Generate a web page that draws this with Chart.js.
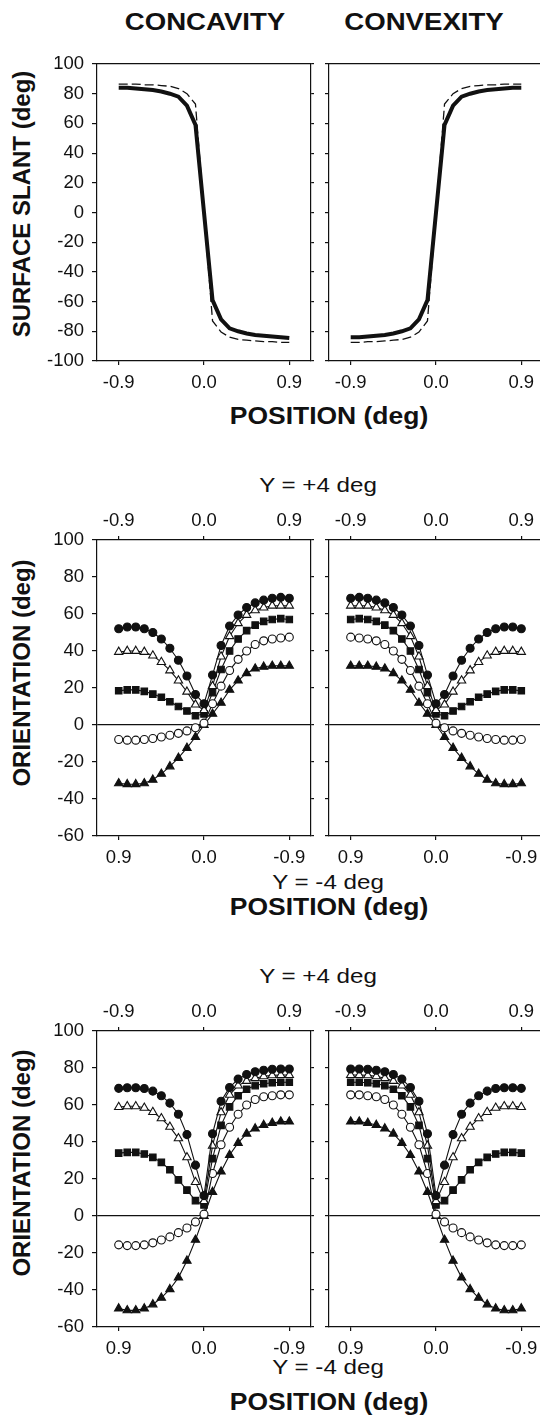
<!DOCTYPE html>
<html>
<head>
<meta charset="UTF-8">
<title>slant_orientation.html</title>
<script src="https://cdn.jsdelivr.net/npm/chart.js"></script>
<style>
  html, body { margin: 0; padding: 0; background: #fff; }
  body { width: 540px; height: 1418px; position: relative; overflow: hidden; }
  canvas { position: absolute; }
  .lbl {
    position: absolute;
    white-space: nowrap;
    line-height: 1;
    color: #111;
    font-family: 'Liberation Sans', Arial, sans-serif;
    transform: translate(-50%, -50%) scaleX(1.15);
  }
  .b { font-weight: bold; }
  .rot { transform: translate(-50%, -50%) rotate(-90deg); }
</style>
</head>

<body>
<div class="lbl b" style="left:205px; top:22px; font-size:23px; transform:translate(-50%,-50%) scaleX(1.2);">CONCAVITY</div>
<div class="lbl b" style="left:424px; top:22px; font-size:23px; transform:translate(-50%,-50%) scaleX(1.2);">CONVEXITY</div>

<div class="lbl b rot" style="left:22px; top:204px; font-size:24px;">SURFACE SLANT (deg)</div>
<div class="lbl b" style="left:329px; top:416px; font-size:23px;">POSITION (deg)</div>

<div class="lbl" style="left:318px; top:484px; font-size:21px;">Y = +4 deg</div>
<div class="lbl b rot" style="left:22px; top:673px; font-size:24px;">ORIENTATION (deg)</div>
<div class="lbl" style="left:328px; top:881px; font-size:21px;">Y = -4 deg</div>
<div class="lbl b" style="left:329px; top:907px; font-size:23px;">POSITION (deg)</div>

<div class="lbl" style="left:318px; top:975px; font-size:21px;">Y = +4 deg</div>
<div class="lbl b rot" style="left:22px; top:1163px; font-size:24px;">ORIENTATION (deg)</div>
<div class="lbl" style="left:328px; top:1366px; font-size:21px;">Y = -4 deg</div>
<div class="lbl b" style="left:329px; top:1402px; font-size:23px;">POSITION (deg)</div>

<canvas id="slantConc"></canvas>
<canvas id="slantConv"></canvas>
<canvas id="midConc"></canvas>
<canvas id="midConv"></canvas>
<canvas id="lowConc"></canvas>
<canvas id="lowConv"></canvas>

<script>
    // position along the curve (deg), 21 samples
    const xPositions = [-0.9, -0.81, -0.72, -0.63, -0.54, -0.45, -0.36, -0.27, -0.18, -0.09, 0,
                        0.09, 0.18, 0.27, 0.36, 0.45, 0.54, 0.63, 0.72, 0.81, 0.9];

    const xTickValues = [-0.9, 0, 0.9];
    const xTickLabelsUp = ['-0.9', '0.0', '0.9'];
    const xTickLabelsDown = ['0.9', '0.0', '-0.9'];

    const slantRange = [-100, 100];
    const orientRange = [-60, 100];
    const yStep = 20;

    // top row: surface slant (solid thick + dashed)
    const slantConcSolid  = [84, 84, 83.5, 83, 82.5, 81.5, 80, 78, 72, 59, 0, -59, -72, -78, -80, -81.5, -82.5, -83, -83.5, -84, -84.5];
    const slantConcDashed = [86.5, 86.5, 86.5, 86, 86, 85.5, 85, 83.5, 80, 73, 0, -73, -80.5, -84, -85.5, -86, -86.5, -87, -87, -87.5, -87.5];
    const slantConvSolid  = [-84, -84, -83.5, -83, -82.5, -81.5, -80, -78, -72, -59, 0, 59, 72, 78, 80, 81.5, 82.5, 83, 83.5, 84, 84];
    const slantConvDashed = [-87.5, -87.5, -87, -87, -86.5, -86, -85.5, -84, -80.5, -73, 0, 73, 80, 83.5, 85, 85.5, 86, 86, 86.5, 86.5, 86.5];

    // middle row: orientation, concavity
    const midConcFilledCircle   = [52, 53, 53, 52, 50, 46.5, 41.5, 35, 26.5, 16.5, 11.5, 27, 43, 53.5, 59.5, 63.5, 66, 67.5, 68.5, 69, 68.5];
    const midConcOpenTriangle   = [39.5, 40, 40, 39.5, 37.5, 34, 29.5, 24, 18, 11, 8, 21, 37, 48, 55, 59.5, 62, 63.5, 64.5, 64.5, 64.5];
    const midConcFilledSquare   = [18.5, 19, 19, 18.2, 16.7, 15, 12.6, 10, 7.6, 5, 6, 17.5, 30, 40, 46.5, 51, 54, 56, 57, 57.5, 57];
    const midConcOpenCircle     = [-7.8, -8.2, -8.2, -7.8, -7.3, -6.5, -5.5, -4.5, -3.2, -1.5, 1, 11.5, 21, 29.5, 35.5, 40, 43.5, 45.5, 46.5, 47, 47.5];
    const midConcFilledTriangle = [-31.5, -32, -32, -31.5, -29.6, -26.4, -22.4, -17.8, -12.4, -6.5, 0, 6, 12, 19, 24, 28, 30.5, 31.5, 32, 32, 32];

    // middle row: orientation, convexity
    const midConvFilledCircle   = [68.5, 69, 68.5, 67.5, 66, 63.5, 59.5, 53.5, 43, 27, 11.5, 16.5, 26.5, 35, 41.5, 46.5, 50, 52, 53, 53, 52];
    const midConvOpenTriangle   = [64.5, 64.5, 64.5, 63.5, 62, 59.5, 55, 48, 37, 21, 8, 11, 18, 24, 29.5, 34, 37.5, 39.5, 40, 40, 39.5];
    const midConvFilledSquare   = [57, 57.5, 57, 56, 54, 51, 46.5, 40, 30, 17.5, 6, 5, 7.6, 10, 12.6, 15, 16.7, 18.2, 19, 19, 18.5];
    const midConvOpenCircle     = [47.5, 47, 46.5, 45.5, 43.5, 40, 35.5, 29.5, 21, 11.5, 1, -1.5, -3.2, -4.5, -5.5, -6.5, -7.3, -7.8, -8.2, -8.2, -7.8];
    const midConvFilledTriangle = [32, 32, 32, 31.5, 30.5, 28, 24, 19, 12, 6, 0, -6.5, -12.4, -17.8, -22.4, -26.4, -29.6, -31.5, -32, -32, -31.5];

    // bottom row: orientation, concavity
    const lowConcFilledCircle   = [69, 69.3, 69.3, 68.9, 67.5, 65, 61, 55, 44, 27.5, 11, 44.5, 62, 69.5, 74, 76.5, 78, 78.8, 79.3, 79.5, 79.5];
    const lowConcOpenTriangle   = [58.9, 59.3, 59.3, 58.5, 56.2, 52.8, 48.2, 42, 31.7, 18.3, 8, 38, 56, 65.5, 70.5, 73, 74.5, 75.5, 76, 76.2, 76.2];
    const lowConcFilledSquare   = [34, 34.4, 34.4, 33.5, 31.7, 29, 25, 19.5, 14, 8.3, 6, 31, 49, 59, 65, 68.5, 70.5, 71.5, 72, 72.3, 72.3];
    const lowConcOpenCircle     = [-15.6, -16, -16, -15.6, -14.5, -13, -11.3, -9, -6.5, -3.2, 1, 23, 38.5, 48, 55, 60, 63, 64.5, 65, 65.5, 65.5];
    const lowConcFilledTriangle = [-50, -51, -51, -50, -47.8, -44.2, -39.6, -33.3, -24.2, -12.9, 0, 13, 24, 33, 39.5, 44.5, 47.3, 49.2, 50.3, 51, 51];

    // bottom row: orientation, convexity
    const lowConvFilledCircle   = [79.5, 79.5, 79.3, 78.8, 78, 76.5, 74, 69.5, 62, 44.5, 11, 27.5, 44, 55, 61, 65, 67.5, 68.9, 69.3, 69.3, 69];
    const lowConvOpenTriangle   = [76.2, 76.2, 76, 75.5, 74.5, 73, 70.5, 65.5, 56, 38, 8, 18.3, 31.7, 42, 48.2, 52.8, 56.2, 58.5, 59.3, 59.3, 58.9];
    const lowConvFilledSquare   = [72.3, 72.3, 72, 71.5, 70.5, 68.5, 65, 59, 49, 31, 6, 8.3, 14, 19.5, 25, 29, 31.7, 33.5, 34.4, 34.4, 34];
    const lowConvOpenCircle     = [65.5, 65.5, 65, 64.5, 63, 60, 55, 48, 38.5, 23, 1, -3.2, -6.5, -9, -11.3, -13, -14.5, -15.6, -16, -16, -15.6];
    const lowConvFilledTriangle = [51, 51, 50.3, 49.2, 47.3, 44.5, 39.5, 33, 24, 13, 0, -12.9, -24.2, -33.3, -39.6, -44.2, -47.8, -50, -51, -51, -50];

    const INK = '#111';
    const tickFont = { family: 'Liberation Sans', size: 18.5 };
    const X_MIN = -1.129, X_MAX = 1.129;

    function pts(arr) {
        return xPositions.map(function (x, i) { return { x: x, y: arr[i] }; });
    }

    function markerSet(arr, style, filled) {
        const r = { circle: 4, triangle: 4.8, rect: 4.6 }[style];
        return {
            data: pts(arr),
            borderColor: INK,
            borderWidth: 1.1,
            tension: 0,
            pointStyle: style,
            pointRadius: r,
            pointBackgroundColor: filled ? INK : '#fff',
            pointBorderColor: INK,
            pointBorderWidth: 1.1
        };
    }

    function slantSets(solid, dashed) {
        return [
            { data: pts(solid), borderColor: INK, borderWidth: 4, pointRadius: 0, tension: 0 },
            { data: pts(dashed), borderColor: INK, borderWidth: 1.3, borderDash: [9, 4], pointRadius: 0, tension: 0 }
        ];
    }

    function orientSets(fc, ot, fs, oc, ft) {
        return [
            markerSet(fc, 'circle', true),
            markerSet(ot, 'triangle', false),
            markerSet(fs, 'rect', true),
            markerSet(oc, 'circle', false),
            markerSet(ft, 'triangle', true)
        ];
    }

    // plot box: left, top, width, height of the plotting area in page pixels
    function panel(id, box, opt) {
        const leftW = opt.yLabels ? 70 : 12;
        const rightW = 10;
        const cv = document.getElementById(id);
        cv.width = box.w + leftW + rightW;
        cv.height = box.h + opt.topH + opt.bottomH;
        cv.style.left = (box.x - leftW) + 'px';
        cv.style.top = (box.y - opt.topH) + 'px';

        const yGrid = {
            drawOnChartArea: true,
            drawTicks: true,
            tickLength: opt.yLabels ? 5 : 4,
            tickColor: INK,
            lineWidth: 1.2,
            color: function (c) {
                return (opt.zeroLine && c.tick && c.tick.value === 0) ? INK : 'rgba(0,0,0,0)';
            }
        };

        new Chart(cv.getContext('2d'), {
            type: 'line',
            data: { datasets: opt.datasets },
            options: {
                responsive: false,
                animation: false,
                events: [],
                layout: { padding: 0, autoPadding: false },
                plugins: { legend: { display: false }, tooltip: { enabled: false } },
                scales: {
                    x: {
                        type: 'linear', position: 'bottom', min: X_MIN, max: X_MAX,
                        afterBuildTicks: function (s) { s.ticks = xTickValues.map(function (v) { return { value: v }; }); },
                        afterFit: function (s) { s.height = opt.bottomH; },
                        ticks: {
                            padding: 7, color: INK, font: tickFont, maxRotation: 0,
                            callback: function (v, i) { return opt.bottomLabels[i]; }
                        },
                        grid: { drawOnChartArea: false, drawTicks: true, tickLength: 4, color: INK, lineWidth: 1.2 },
                        border: { display: true, color: INK, width: 1.2 }
                    },
                    xTop: {
                        type: 'linear', position: 'top', min: X_MIN, max: X_MAX,
                        afterBuildTicks: function (s) { s.ticks = xTickValues.map(function (v) { return { value: v }; }); },
                        afterFit: function (s) { s.height = opt.topH; },
                        ticks: {
                            display: !!opt.topLabels, padding: 4, color: INK, font: tickFont, maxRotation: 0,
                            callback: function (v, i) { return opt.topLabels ? opt.topLabels[i] : ''; }
                        },
                        grid: { drawOnChartArea: false, drawTicks: !!opt.topLabels, tickLength: 4, color: INK, lineWidth: 1.2 },
                        border: { display: true, color: INK, width: 1.2 }
                    },
                    y: {
                        type: 'linear', position: 'left', min: opt.range[0], max: opt.range[1],
                        afterFit: function (s) { s.width = leftW; },
                        ticks: { display: opt.yLabels, stepSize: yStep, padding: 8, color: INK, font: tickFont },
                        grid: yGrid,
                        border: { display: true, color: INK, width: 1.2 }
                    },
                    yRight: {
                        type: 'linear', position: 'right', min: opt.range[0], max: opt.range[1],
                        afterFit: function (s) { s.width = rightW; },
                        ticks: { display: false, stepSize: yStep },
                        grid: { drawOnChartArea: false, drawTicks: true, tickLength: 3, color: INK, lineWidth: 1.2 },
                        border: { display: true, color: INK, width: 1.2 }
                    }
                }
            }
        });
    }

    const colLeft = 97, colRight = 329, plotW = 214;

    panel('slantConc', { x: colLeft, y: 64, w: plotW, h: 297 }, {
        yLabels: true, range: slantRange, topH: 20, bottomH: 45, zeroLine: false,
        bottomLabels: xTickLabelsUp, topLabels: null,
        datasets: slantSets(slantConcSolid, slantConcDashed)
    });
    panel('slantConv', { x: colRight, y: 64, w: plotW, h: 297 }, {
        yLabels: false, range: slantRange, topH: 20, bottomH: 45, zeroLine: false,
        bottomLabels: xTickLabelsUp, topLabels: null,
        datasets: slantSets(slantConvSolid, slantConvDashed)
    });

    panel('midConc', { x: colLeft, y: 540, w: plotW, h: 296 }, {
        yLabels: true, range: orientRange, topH: 40, bottomH: 40, zeroLine: true,
        bottomLabels: xTickLabelsDown, topLabels: xTickLabelsUp,
        datasets: orientSets(midConcFilledCircle, midConcOpenTriangle, midConcFilledSquare, midConcOpenCircle, midConcFilledTriangle)
    });
    panel('midConv', { x: colRight, y: 540, w: plotW, h: 296 }, {
        yLabels: false, range: orientRange, topH: 40, bottomH: 40, zeroLine: true,
        bottomLabels: xTickLabelsDown, topLabels: xTickLabelsUp,
        datasets: orientSets(midConvFilledCircle, midConvOpenTriangle, midConvFilledSquare, midConvOpenCircle, midConvFilledTriangle)
    });

    panel('lowConc', { x: colLeft, y: 1031, w: plotW, h: 296 }, {
        yLabels: true, range: orientRange, topH: 40, bottomH: 40, zeroLine: true,
        bottomLabels: xTickLabelsDown, topLabels: xTickLabelsUp,
        datasets: orientSets(lowConcFilledCircle, lowConcOpenTriangle, lowConcFilledSquare, lowConcOpenCircle, lowConcFilledTriangle)
    });
    panel('lowConv', { x: colRight, y: 1031, w: plotW, h: 296 }, {
        yLabels: false, range: orientRange, topH: 40, bottomH: 40, zeroLine: true,
        bottomLabels: xTickLabelsDown, topLabels: xTickLabelsUp,
        datasets: orientSets(lowConvFilledCircle, lowConvOpenTriangle, lowConvFilledSquare, lowConvOpenCircle, lowConvFilledTriangle)
    });
</script>
</body>
</html>
